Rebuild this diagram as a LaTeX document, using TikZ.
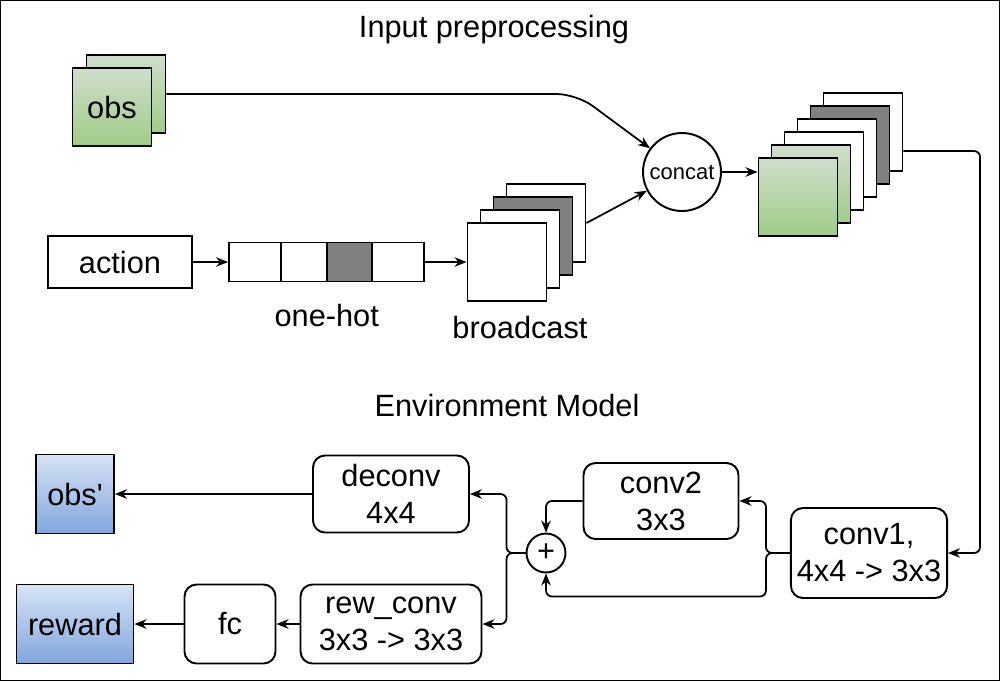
\documentclass[tikz,border=0pt]{standalone}
\usepackage{fontspec}
\setmainfont{Liberation Sans}
\usepackage{tikz}
\usetikzlibrary{shapes,arrows.meta,calc}
\definecolor{greentop}{RGB}{208,222,204}
\definecolor{greenbot}{RGB}{160,204,135}
\definecolor{bluetop}{RGB}{214,227,245}
\definecolor{bluebot}{RGB}{130,166,222}
\definecolor{hotgray}{RGB}{128,128,128}
\tikzstyle{plainbox} = [draw, line width=1.1pt, rectangle, minimum height=1.04cm, minimum width=2.88cm]
\tikzstyle{layer} = [draw, line width=1.1pt, rounded corners=0.24cm, rectangle, align=center, minimum height=1.56cm]
\tikzstyle{fmap} = [draw, line width=1.1pt, rectangle, minimum width=1.58cm, minimum height=1.56cm]
\tikzstyle{greenmap} = [fmap, top color=greentop, bottom color=greenbot]
\tikzstyle{bluemap} = [draw, line width=1.1pt, rectangle, top color=bluetop, bottom color=bluebot, minimum height=1.58cm]
\tikzstyle{cell} = [draw, line width=1.1pt, rectangle, minimum height=0.78cm]
\tikzstyle{wire} = [line width=1pt]
\tikzstyle{link} = [line width=1pt, rounded corners=0.12cm]
\begin{document}
\begin{tikzpicture}[x=0.02cm, y=-0.02cm, font=\fontsize{17.5}{21}\selectfont, >={Stealth[length=0.24cm,width=0.19cm]}]
\useasboundingbox (0,0) rectangle (1000,681);
\draw[line width=0.6pt] (0.5,0.5) rectangle (999.5,680.5);

%% Input preprocessing %%
\node (InputTitle) at (494,30) {Input preprocessing};

\node [greenmap] (ObsBack) at (126,94) {};
\node [greenmap] (Obs) at ($(ObsBack)+(-14,13)$) {obs};

\node [plainbox] (Action) at (120,262) {action};

\node [cell, minimum width=1.04cm] (Hot1) at (255,262) {};
\node [cell, minimum width=0.92cm] (Hot2) at ($(Hot1)+(49,0)$) {};
\node [cell, minimum width=0.90cm, fill=hotgray] (Hot3) at ($(Hot2)+(45.5,0)$) {};
\node [cell, minimum width=1.04cm] (Hot4) at ($(Hot3)+(48.5,0)$) {};
\node (OneHot) at ($(Hot2)!0.5!(Hot3)+(0,53)$) {one-hot};

\coordinate (BcPos) at (507,262);
\node [fmap, fill=white] (Bc4) at ($(BcPos)+(39,-39)$) {};
\node [fmap, fill=hotgray] (Bc3) at ($(BcPos)+(26,-26)$) {};
\node [fmap, fill=white] (Bc2) at ($(BcPos)+(13,-13)$) {};
\node [fmap, fill=white] (Broadcast) at (BcPos) {};
\node (BcLabel) at ($(Broadcast)+(13,65)$) {broadcast};

\node [circle, draw, line width=1.1pt, minimum size=1.56cm, inner sep=0pt, font=\fontsize{12.5}{15}\selectfont] (Concat) at (682,172) {concat};

\coordinate (OutPos) at (798,197);
\node [fmap, fill=white] (Out6) at ($(OutPos)+(65,-65)$) {};
\node [fmap, fill=hotgray] (Out5) at ($(OutPos)+(52,-52)$) {};
\node [fmap, fill=white] (Out4) at ($(OutPos)+(39,-39)$) {};
\node [fmap, fill=white] (Out3) at ($(OutPos)+(26,-26)$) {};
\node [greenmap] (Out2) at ($(OutPos)+(13,-13)$) {};
\node [greenmap] (Out1) at (OutPos) {};

%% Environment Model %%
\node (EnvTitle) at (507,405) {Environment Model};

\node [layer, minimum width=3.12cm, minimum height=1.8cm] (Conv1) at (869,553) {conv1,\\4x4 -> 3x3};
\node [layer, minimum width=3.1cm, minimum height=1.52cm] (Conv2) at (661,501) {conv2\\3x3};
\node [circle, draw, line width=1.1pt, minimum size=0.78cm, inner sep=0pt] (Plus) at (546,553) {+};
\node [layer, minimum width=3.12cm, minimum height=1.54cm] (Deconv) at (391,494) {deconv\\4x4};
\node [layer, minimum width=3.62cm, minimum height=1.58cm] (RewConv) at (391,624) {rew\_conv\\3x3 -> 3x3};
\node [layer, minimum width=1.82cm, minimum height=1.58cm] (Fc) at (230,624) {fc};
\node [bluemap, minimum width=1.56cm] (ObsNext) at (75,494) {obs\textquotesingle};
\node [bluemap, minimum width=2.34cm] (Reward) at (75,624) {reward};

%% Forbindelse %%
\draw[->, wire, rounded corners=0.4cm] (ObsBack.east) -- ++(410,0) -- (Concat);
\draw[->, wire] (Action) -- (Hot1);
\draw[->, wire] (Hot4) -- (Broadcast);
\draw[->, wire] (Bc4.east) -- (Concat);
\draw[->, wire] (Concat.east) -- (Concat.east -| Out1.west);
\draw[->, link] ($(Out6.east)+(0,19)$) -| ($(Conv1.east)+(32,0)$) -- (Conv1.east);

\draw[->, link] (Conv1.west) -- ++(-24,0) |- (Conv2.east);
\draw[->, link] (Conv1.west) -- ++(-24,0) |- ($(Plus.south)+(0,23)$) -- (Plus.south);
\draw[->, link] (Conv2.west) -| (Plus.north);
\draw[->, link] (Plus.west) -- ++(-19,0) |- (Deconv.east);
\draw[->, link] (Plus.west) -- ++(-19,0) |- (RewConv.east);
\draw[->, wire] (Deconv) -- (ObsNext);
\draw[->, wire] (RewConv) -- (Fc);
\draw[->, wire] (Fc) -- (Reward);
\end{tikzpicture}
\end{document}
